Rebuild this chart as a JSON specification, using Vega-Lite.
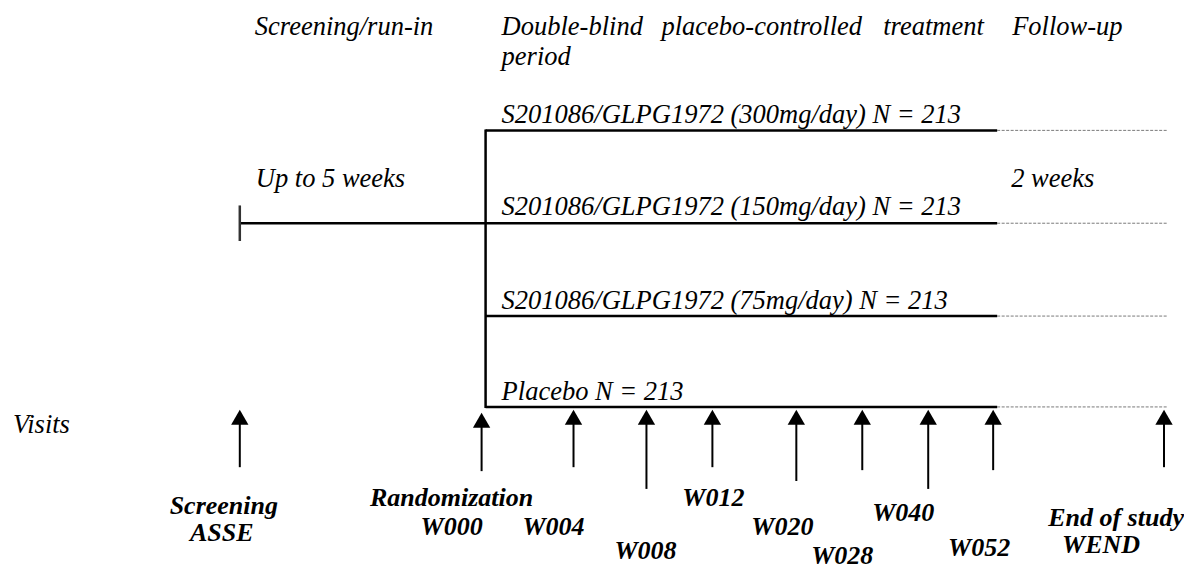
{
  "$schema": "https://vega.github.io/schema/vega-lite/v6.json",
  "width": 1184,
  "height": 569,
  "padding": 0,
  "autosize": {"type": "fit", "contains": "padding"},
  "background": "white",
  "config": {"view": {"stroke": null}},
  "datasets": {
    "solid": [
      {"x": 240, "x2": 486, "y": 226, "y2": 226},
      {"x": 486, "x2": 486, "y": 131, "y2": 413},
      {"x": 486, "x2": 998, "y": 132, "y2": 132},
      {"x": 486, "x2": 998, "y": 226, "y2": 226},
      {"x": 486, "x2": 998, "y": 320, "y2": 320},
      {"x": 486, "x2": 998, "y": 412, "y2": 412}
    ],
    "tick": [
      {"x": 240, "x2": 240, "y": 208, "y2": 244}
    ],
    "dashed": [
      {"x": 998, "x2": 1168, "y": 132, "y2": 132},
      {"x": 998, "x2": 1168, "y": 226, "y2": 226},
      {"x": 998, "x2": 1168, "y": 320, "y2": 320},
      {"x": 998, "x2": 1168, "y": 412, "y2": 412}
    ],
    "arrows": [
      {"visit": "ASSE", "x": 240, "head": 422.5, "base": 429, "bottom": 473},
      {"visit": "W000", "x": 482, "head": 425.5, "base": 432, "bottom": 477},
      {"visit": "W004", "x": 574, "head": 422.5, "base": 429, "bottom": 473},
      {"visit": "W008", "x": 647, "head": 422.5, "base": 429, "bottom": 495},
      {"visit": "W012", "x": 713, "head": 422.5, "base": 429, "bottom": 473},
      {"visit": "W020", "x": 797, "head": 422.5, "base": 429, "bottom": 487},
      {"visit": "W028", "x": 863, "head": 422.5, "base": 429, "bottom": 476},
      {"visit": "W040", "x": 929, "head": 422.5, "base": 429, "bottom": 495},
      {"visit": "W052", "x": 994, "head": 422.5, "base": 429, "bottom": 476},
      {"visit": "WEND", "x": 1165, "head": 422.5, "base": 429, "bottom": 473}
    ],
    "italic": [
      {"label": "Screening/run-in", "x": 255, "y": 35},
      {"label": "Double-blind", "x": 502, "y": 35},
      {"label": "placebo-controlled", "x": 662, "y": 35},
      {"label": "treatment", "x": 884, "y": 35},
      {"label": "Follow-up", "x": 1013, "y": 35},
      {"label": "period", "x": 502, "y": 66},
      {"label": "S201086/GLPG1972 (300mg/day) N = 213", "x": 502, "y": 125},
      {"label": "Up to 5 weeks", "x": 256, "y": 189},
      {"label": "2 weeks", "x": 1012, "y": 189},
      {"label": "S201086/GLPG1972 (150mg/day) N = 213", "x": 502, "y": 218},
      {"label": "S201086/GLPG1972 (75mg/day) N = 213", "x": 502, "y": 313},
      {"label": "Placebo N = 213", "x": 502, "y": 405},
      {"label": "Visits", "x": 13, "y": 438}
    ],
    "bold": [
      {"label": "Screening", "x": 224, "y": 520},
      {"label": "ASSE", "x": 222, "y": 548},
      {"label": "Randomization", "x": 452, "y": 512},
      {"label": "W000", "x": 452, "y": 542},
      {"label": "W004", "x": 554, "y": 542},
      {"label": "W008", "x": 646, "y": 566},
      {"label": "W012", "x": 714, "y": 512},
      {"label": "W020", "x": 783, "y": 542},
      {"label": "W028", "x": 843, "y": 571},
      {"label": "W040", "x": 904, "y": 527},
      {"label": "W052", "x": 980, "y": 563},
      {"label": "End of study", "x": 1117, "y": 533},
      {"label": "WEND", "x": 1102, "y": 560}
    ]
  },
  "layer": [
    {
      "data": {"name": "dashed"},
      "mark": {"type": "rule", "color": "#7a7a7a", "strokeWidth": 1, "strokeDash": [3, 1.5]},
      "encoding": {
        "x": {"field": "x", "type": "quantitative", "axis": null, "scale": {"domain": [0, 1184], "nice": false, "zero": false}},
        "x2": {"field": "x2"},
        "y": {"field": "y", "type": "quantitative", "axis": null, "scale": {"domain": [0, 569], "nice": false, "zero": false, "reverse": true}},
        "y2": {"field": "y2"}
      }
    },
    {
      "data": {"name": "solid"},
      "mark": {"type": "rule", "color": "black", "strokeWidth": 2.5},
      "encoding": {
        "x": {"field": "x", "type": "quantitative", "axis": null, "scale": {"domain": [0, 1184], "nice": false, "zero": false}},
        "x2": {"field": "x2"},
        "y": {"field": "y", "type": "quantitative", "axis": null, "scale": {"domain": [0, 569], "nice": false, "zero": false, "reverse": true}},
        "y2": {"field": "y2"}
      }
    },
    {
      "data": {"name": "tick"},
      "mark": {"type": "rule", "color": "#333333", "strokeWidth": 2.5},
      "encoding": {
        "x": {"field": "x", "type": "quantitative", "axis": null, "scale": {"domain": [0, 1184], "nice": false, "zero": false}},
        "x2": {"field": "x2"},
        "y": {"field": "y", "type": "quantitative", "axis": null, "scale": {"domain": [0, 569], "nice": false, "zero": false, "reverse": true}},
        "y2": {"field": "y2"}
      }
    },
    {
      "data": {"name": "arrows"},
      "mark": {"type": "rule", "color": "black", "strokeWidth": 2},
      "encoding": {
        "x": {"field": "x", "type": "quantitative", "axis": null, "scale": {"domain": [0, 1184], "nice": false, "zero": false}},
        "y": {"field": "base", "type": "quantitative", "axis": null, "scale": {"domain": [0, 569], "nice": false, "zero": false, "reverse": true}},
        "y2": {"field": "bottom"}
      }
    },
    {
      "data": {"name": "arrows"},
      "mark": {"type": "point", "shape": "triangle-up", "filled": true, "color": "black", "opacity": 1, "size": 300, "strokeWidth": 0},
      "encoding": {
        "x": {"field": "x", "type": "quantitative", "axis": null, "scale": {"domain": [0, 1184], "nice": false, "zero": false}},
        "y": {"field": "head", "type": "quantitative", "axis": null, "scale": {"domain": [0, 569], "nice": false, "zero": false, "reverse": true}}
      }
    },
    {
      "data": {"name": "italic"},
      "mark": {"type": "text", "font": "Liberation Serif, Times New Roman, serif", "fontStyle": "italic", "fontSize": 26.5, "align": "left", "baseline": "alphabetic", "color": "black"},
      "encoding": {
        "x": {"field": "x", "type": "quantitative", "axis": null, "scale": {"domain": [0, 1184], "nice": false, "zero": false}},
        "y": {"field": "y", "type": "quantitative", "axis": null, "scale": {"domain": [0, 569], "nice": false, "zero": false, "reverse": true}},
        "text": {"field": "label", "type": "nominal"}
      }
    },
    {
      "data": {"name": "bold"},
      "mark": {"type": "text", "font": "Liberation Serif, Times New Roman, serif", "fontStyle": "italic", "fontWeight": "bold", "fontSize": 26, "align": "center", "baseline": "alphabetic", "color": "black"},
      "encoding": {
        "x": {"field": "x", "type": "quantitative", "axis": null, "scale": {"domain": [0, 1184], "nice": false, "zero": false}},
        "y": {"field": "y", "type": "quantitative", "axis": null, "scale": {"domain": [0, 569], "nice": false, "zero": false, "reverse": true}},
        "text": {"field": "label", "type": "nominal"}
      }
    }
  ]
}
